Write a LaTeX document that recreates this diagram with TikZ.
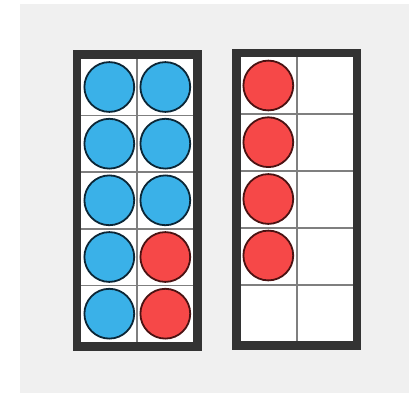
\documentclass[tikz,border=0pt]{standalone}
\definecolor{bggray}{HTML}{F0F0F0}
\definecolor{framegray}{HTML}{333333}
\definecolor{gridgray}{HTML}{7F7F7F}
\definecolor{chipblue}{HTML}{3AB1E8}
\definecolor{chipred}{HTML}{F64848}
\definecolor{blueedge}{HTML}{0B2636}
\definecolor{rededge}{HTML}{4A1212}
\begin{document}
\begin{tikzpicture}[x=1pt,y=-1pt,
  frame/.style={draw=framegray,line width=8.7pt},
  gridline/.style={draw=gridgray,line width=1.8pt},
  chip/.style={circle,line width=1.8pt,minimum size=49.8pt,inner sep=0pt},
  bluechip/.style={chip,draw=blueedge,fill=chipblue},
  redchip/.style={chip,draw=rededge,fill=chipred}]
\useasboundingbox (0,0) rectangle (409,393);
\fill[bggray] (20,4) rectangle (409,393);
% left ten-frame
\fill[white] (81.3,58.7) rectangle (193.3,342);
\draw[gridline] (137.3,58.7) -- (137.3,342);
\foreach \y in {115.4,172,228.7,285.4}
  \draw[gridline] (81.3,\y) -- (193.3,\y);
\draw[frame] (77,54.35) rectangle (197.65,346.35);
\foreach \y/\n in {87/1,143.7/2,200.3/3,257/4,313.7/5}
  \node[bluechip] (la\n) at (109.3,\y) {};
\foreach \y/\n in {87/1,143.7/2,200.3/3}
  \node[bluechip] (lb\n) at (165.3,\y) {};
\foreach \y/\n in {257/4,313.7/5}
  \node[redchip] (lb\n) at (165.3,\y) {};
% right ten-frame
\fill[white] (240.7,57.3) rectangle (352.7,341.3);
\draw[gridline] (296.7,57.3) -- (296.7,341.3);
\foreach \y in {114,170.8,227.7,284.8}
  \draw[gridline] (240.7,\y) -- (352.7,\y);
\draw[frame] (236.35,53.15) rectangle (357,345.5);
\foreach \y/\n in {85.5/1,142.2/2,199/3,255.5/4}
  \node[redchip] (ra\n) at (268.3,\y) {};
\end{tikzpicture}
\end{document}
